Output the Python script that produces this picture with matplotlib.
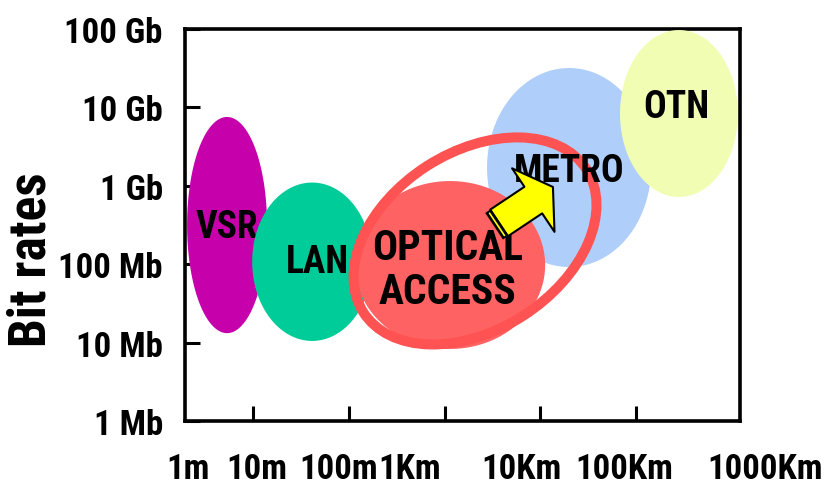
import matplotlib
matplotlib.use("Agg")
import matplotlib.pyplot as plt
import numpy as np
from matplotlib.patches import Ellipse, FancyArrowPatch, ArrowStyle
from matplotlib.transforms import ScaledTranslation

plt.rcParams['font.family'] = ['Roboto Condensed', 'DejaVu Sans']
plt.rcParams['font.weight'] = 'bold'

# network classes: reach (metres) and bit rate (bit/s) ranges
regions = ['VSR', 'LAN', 'METRO', 'OTN', 'OPTICAL\nACCESS']
dist_lo = [2.05, 9.8, 2770, 67700, 116]
dist_hi = [14, 175, 143000, 1150000, 11200]
rate_lo = [13.2e6, 10.5e6, 92e6, 720e6, 8.3e6]
rate_hi = [7.55e9, 1.1e9, 31.8e9, 97e9, 1.15e9]
colors = ['#C600AA', '#00CC99', '#AFCFFA', '#F2FDB4', '#FF6262']

# highlight ring around the access region, and the arrow towards metro
ring_center = (2076, 198e6)
arrow_from = (3700, 336e6)
arrow_to = (13500, 966e6)

rate_ticks = [1e6, 1e7, 1e8, 1e9, 1e10, 1e11]
rate_labels = ['1 Mb', '10 Mb', '100 Mb', '1 Gb', '10 Gb', '100 Gb']
dist_labels = ['1m', '10m', '100m', '1Km', '10Km', '100Km', '1000Km']

fig = plt.figure(figsize=(8.4, 4.89), dpi=100)
ax = fig.add_axes([185 / 840, 1 - 422 / 489, 555 / 840, 392 / 489])
ax.set_xscale('log')
ax.set_yscale('log')
ax.set_xlim(10 ** 0.29, 10 ** 6.083)
ax.set_ylim(1e6, 1e11)

t = np.linspace(0, 2 * np.pi, 300)
label_offsets = [(0, -1), (4, 0), (0, -2), (-2, 5), (-2, -3)]
for i, name in enumerate(regions):
    lx0, lx1 = np.log10(dist_lo[i]), np.log10(dist_hi[i])
    ly0, ly1 = np.log10(rate_lo[i]), np.log10(rate_hi[i])
    cx, rx = (lx0 + lx1) / 2, (lx1 - lx0) / 2
    cy, ry = (ly0 + ly1) / 2, (ly1 - ly0) / 2
    z = 2 + i
    ax.fill(10 ** (cx + rx * np.cos(t)), 10 ** (cy + ry * np.sin(t)),
            color=colors[i], lw=0, zorder=z)
    fs = 30 if 'ACCESS' in name else 27
    z_txt = 12 if name == 'METRO' else z + 0.5
    ax.annotate(name, (10 ** cx, 10 ** cy), xytext=label_offsets[i],
                textcoords='offset points', ha='center', va='center',
                fontsize=fs, fontweight='bold', color='black',
                linespacing=1.1, zorder=z_txt)

# tilted ring, sized in inches around its data centre
ring = Ellipse((0, 0), 2.65, 1.78, angle=32.6, fill=False,
               ec='#FF5252', lw=7.2, zorder=10,
               transform=fig.dpi_scale_trans + ScaledTranslation(
                   ring_center[0], ring_center[1], ax.transData))
ax.add_patch(ring)

arrow = FancyArrowPatch(arrow_from, arrow_to,
                        arrowstyle=ArrowStyle.Simple(head_length=17, head_width=55, tail_width=23),
                        mutation_scale=1, shrinkA=0, shrinkB=0,
                        fc='#FFFF00', ec='black', lw=1.5, zorder=14)
ax.add_patch(arrow)

# dark band across the arrow's tail
p0 = ax.transData.transform(arrow_from)
p1 = ax.transData.transform(arrow_to)
d = (p1 - p0) / np.hypot(*(p1 - p0))
n = np.array([-d[1], d[0]])
inv = ax.transData.inverted()
for back, half, col, w in [(-2.5, 16, 'black', 5), (-2.5, 14, '#FFFF00', 1.2)]:
    seg = inv.transform([p0 + d * back + n * half, p0 + d * back - n * half])
    ax.plot(seg[:, 0], seg[:, 1], color=col, lw=w, solid_capstyle='butt', zorder=15)

# axes frame and ticks
for sp in ax.spines.values():
    sp.set_linewidth(2.6)
ax.minorticks_off()
ax.set_xticks([1e1, 1e2, 1e3, 1e4, 1e5])
ax.set_xticklabels([])
ax.set_yticks(rate_ticks)
ax.set_yticklabels(rate_labels)
ax.tick_params(direction='in', length=11, width=2.2, pad=16)
ax.tick_params(axis='y', labelsize=25)
for lab in ax.get_yticklabels():
    lab.set_fontweight('bold')

label_x = [0.005, 0.13, 0.276, 0.405, 0.607, 0.791, 1.045]
for x, txt in zip(label_x, dist_labels):
    ax.text(x, -0.12, txt, transform=ax.transAxes, ha='center', va='center',
            fontsize=25, fontweight='bold', clip_on=False)

ax.text(-0.277, 0.413, 'Bit rates', transform=ax.transAxes, rotation=90,
        ha='center', va='center', fontsize=37, fontweight='bold')

fig.savefig('out.png', dpi=100)
